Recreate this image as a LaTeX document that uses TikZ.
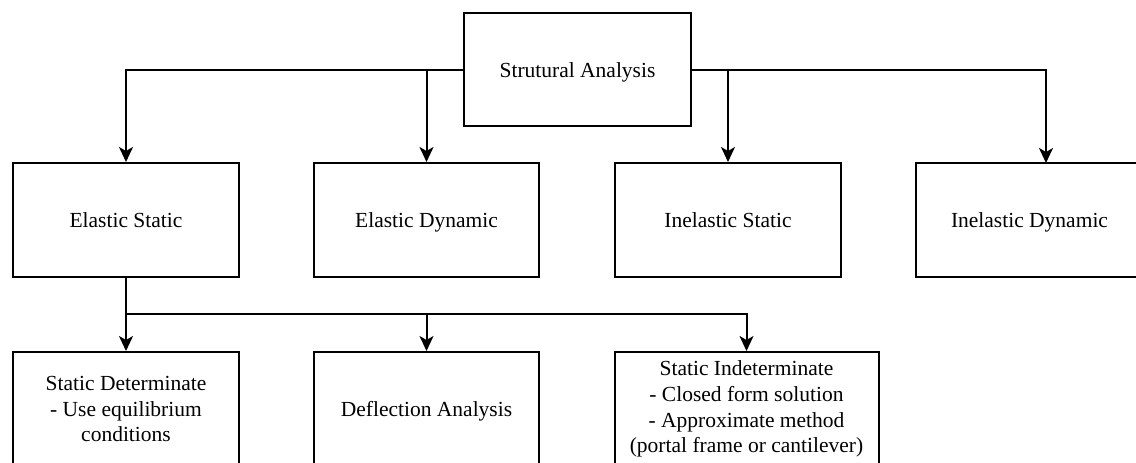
\documentclass[tikz,border=0pt]{standalone}
\usepackage{fontspec}
\setmainfont{Liberation Serif}
\usetikzlibrary{arrows.meta,calc}
\begin{document}
\begin{tikzpicture}[x=1pt,y=-1pt,
  box/.style={draw=black,line width=2pt,rectangle,inner sep=0pt,minimum height=114pt,
    align=center,font=\fontsize{21.5}{25.8}\selectfont},
  one/.style={text height=19pt,text depth=4pt},
  arr/.style={draw=black,line width=2pt,-{Stealth[length=15pt,width=14pt,inset=4pt]}}]
\clip (0,0) rectangle (1136,463);
\fill[white] (0,0) rectangle (1136,463);
% top
\node[box,one,minimum width=227pt,minimum height=113pt] (top) at (577.5,69.5) {Strutural Analysis};
% row 2
\node[box,one,minimum width=226pt] (es) at (126,220) {Elastic Static};
\node[box,one,minimum width=225pt] (ed) at (426.5,220) {Elastic Dynamic};
\node[box,one,minimum width=226pt] (is) at (728,220) {Inelastic Static};
\node[box,one,minimum width=227pt] (id) at (1029.5,220) {Inelastic Dynamic};
% row 3
\node[box,minimum width=226pt] (sd) at (126,409) {Static Determinate\\- Use equilibrium\\conditions};
\node[box,one,minimum width=225pt] (da) at (426.5,409) {Deflection Analysis};
\node[box,minimum width=264pt] (si) at (746.5,409) {Static Indeterminate\\- Closed form solution\\- Approximate method\\(portal frame or cantilever)};
% connectors
\coordinate (idin) at (1046,163);
\coordinate (j) at (126,314);
\draw[arr] (top.west) -| (es.north);
\draw[arr] (top.west) -| (ed.north);
\draw[arr] (top.east) -| (is.north);
\draw[arr] (top.east) -| (idin);
\draw[arr] (es.south) -- (sd.north);
\draw[arr] (j) -| (da.north);
\draw[arr] (j) -| (si.north);
\end{tikzpicture}
\end{document}
